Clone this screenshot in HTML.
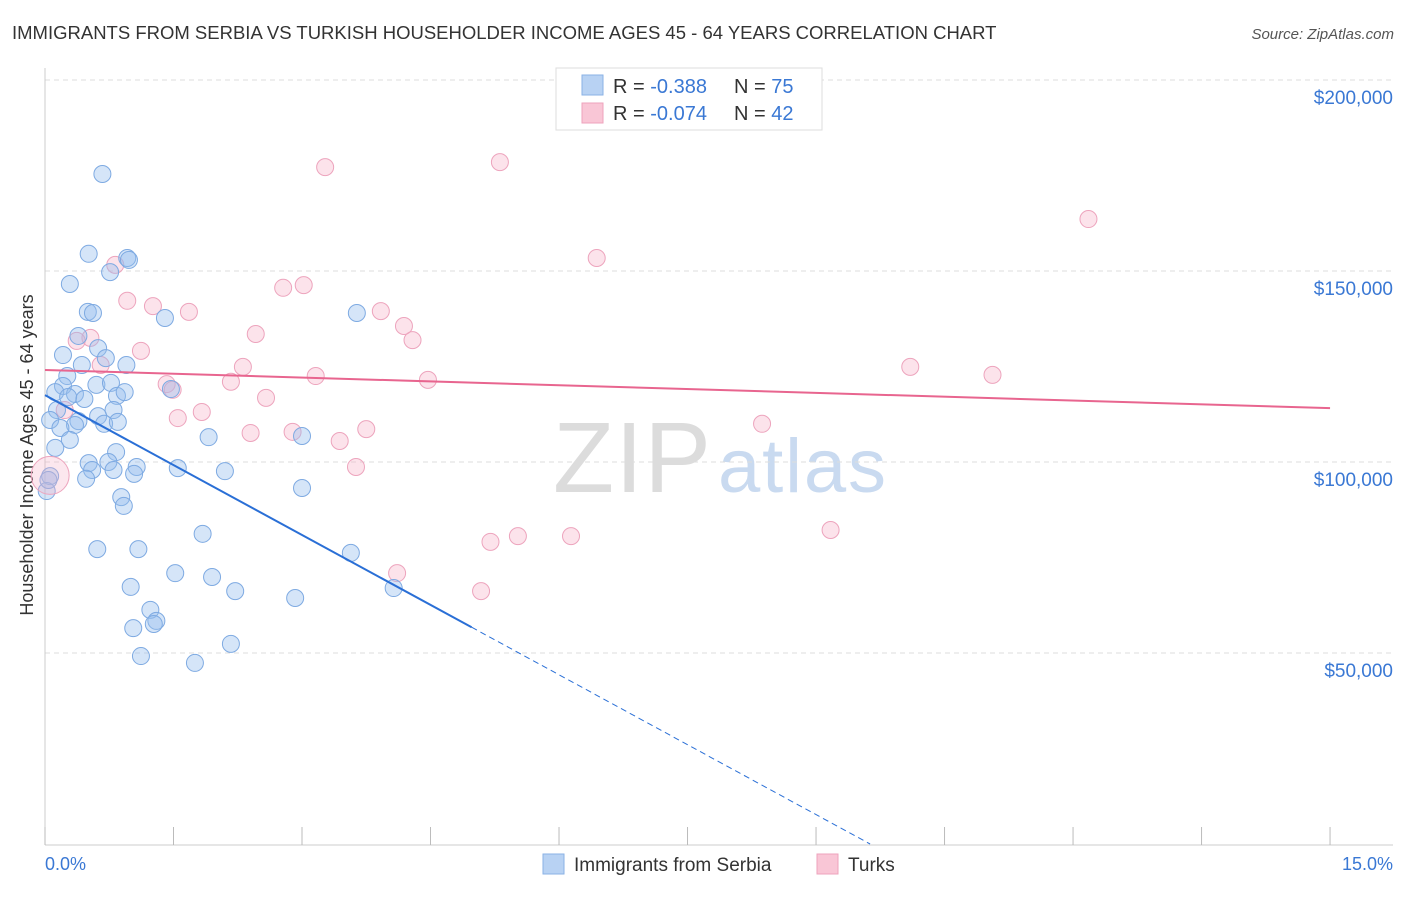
<!DOCTYPE html>
<html><head><meta charset="utf-8"><style>
body{margin:0;background:#fff;font-family:"Liberation Sans",sans-serif;}
svg text{font-family:"Liberation Sans",sans-serif;}
</style></head><body>
<svg id="chart" width="1406" height="892">
<text x="12" y="39" font-size="18.5" fill="#333">IMMIGRANTS FROM SERBIA VS TURKISH HOUSEHOLDER INCOME AGES 45 - 64 YEARS CORRELATION CHART</text>
<text x="1394" y="39" font-size="15" fill="#555" text-anchor="end" font-style="italic">Source: ZipAtlas.com</text>
<text x="0" y="0" font-size="18" fill="#333" text-anchor="middle" transform="translate(33,455) rotate(-90)">Householder Income Ages 45 - 64 years</text>
<text x="553" y="492" font-size="100" fill="#dcdcdc" font-family="Liberation Serif" textLength="158">ZIP</text>
<text x="718" y="492" font-size="76" fill="#c9daf0" textLength="168">atlas</text>
<g id="grid"></g><g id="pts"></g><g id="lines"></g>
<g>
<rect x="556" y="68" width="266" height="62" fill="#fff" stroke="#ddd"/>
<rect x="582" y="75" width="21" height="20" fill="#b8d2f3" stroke="#8ab2e6"/>
<rect x="582" y="103" width="21" height="20" fill="#f9c6d6" stroke="#eea3bc"/>
<text x="613" y="93" font-size="20" fill="#333">R = <tspan fill="#3a78d4">-0.388</tspan></text>
<text x="734" y="93" font-size="20" fill="#333">N = <tspan fill="#3a78d4">75</tspan></text>
<text x="613" y="120" font-size="20" fill="#333">R = <tspan fill="#3a78d4">-0.074</tspan></text>
<text x="734" y="120" font-size="20" fill="#333">N = <tspan fill="#3a78d4">42</tspan></text>
</g>
<g>
<rect x="543" y="854" width="21" height="20" fill="#b8d2f3" stroke="#8ab2e6"/>
<text x="574" y="871" font-size="19" fill="#333">Immigrants from Serbia</text>
<rect x="817" y="854" width="21" height="20" fill="#f9c6d6" stroke="#eea3bc"/>
<text x="848" y="871" font-size="19" fill="#333">Turks</text>
</g>
<text x="45" y="870" font-size="18" fill="#3a78d4">0.0%</text>
<text x="1393" y="870" font-size="18" fill="#3a78d4" text-anchor="end">15.0%</text>
</svg>
<script>
const yTicks=[50000,100000,150000,200000];
const yTickLabels=["$50,000","$100,000","$150,000","$200,000"];
const xTicks=[0,1.5,3,4.5,6,7.5,9,10.5,12,13.5,15];
const serbiaX=[0.67,0.51,0.96,0.98,0.76,0.29,0.50,0.56,1.40,3.64,0.39,0.62,0.21,0.71,0.43,0.95,0.26,0.21,0.60,0.77,1.47,0.12,0.35,0.27,0.84,0.93,0.46,0.14,0.80,0.62,0.06,0.39,0.35,0.69,0.85,0.18,1.91,3.0,0.29,0.12,0.83,0.51,0.74,1.07,0.55,0.80,1.55,2.10,1.04,0.06,0.48,3.0,0.02,0.89,0.92,1.84,0.61,1.09,3.57,1.52,1.95,1.0,2.22,4.07,2.92,1.23,1.30,1.27,1.03,2.17,1.12,1.75,0.04];
const serbiaY=[175.4,154.5,153.4,152.9,149.7,146.6,139.3,139.0,137.7,139.0,133.0,129.8,128.0,127.2,125.4,125.4,122.5,119.9,120.2,120.7,119.1,118.3,117.8,117.0,117.3,118.3,116.5,113.6,113.6,112.0,111.0,110.7,109.7,110.0,110.5,108.9,106.5,106.8,105.8,103.7,102.6,99.7,100.0,98.7,97.9,97.9,98.4,97.6,96.9,96.3,95.6,93.2,92.4,90.8,88.5,81.2,77.2,77.2,76.2,70.9,69.9,67.3,66.2,67.0,64.4,61.3,58.4,57.6,56.5,52.4,49.2,47.4,95.3];
const turksX=[3.27,5.31,12.18,6.44,0.82,2.78,3.02,0.96,1.26,1.68,3.92,4.19,2.46,0.53,0.37,4.29,1.12,0.65,2.31,10.1,11.06,3.16,2.17,4.47,1.42,1.49,2.58,0.23,1.83,1.55,8.37,3.75,2.40,2.89,3.44,3.63,9.17,5.52,6.14,5.20,4.11,5.09];
const turksY=[177.2,178.5,163.6,153.4,151.6,145.6,146.3,142.2,140.8,139.3,139.5,135.6,133.5,132.5,131.7,131.9,129.1,125.4,124.9,124.9,122.8,122.5,121.0,121.5,120.4,118.9,116.8,113.6,113.1,111.5,110.0,108.6,107.6,107.9,105.5,98.7,82.2,80.6,80.6,79.1,70.9,66.2];
const serbiaTrend=[117.5,-12.2];
const turksTrend=[124.1,-0.667];
const X=v=>45+v*85.67, Y=k=>653-(k-50)*3.82;
const NS="http://www.w3.org/2000/svg";
function mk(t,a,p){const e=document.createElementNS(NS,t);for(const k in a)e.setAttribute(k,a[k]);p.appendChild(e);return e;}
const grid=document.getElementById('grid');
yTicks.forEach((v,i)=>{const y=Y(v/1000);
const l=mk('line',{x1:45,x2:1393,y1:y,y2:y,stroke:'#ddd','stroke-dasharray':'5,4'},grid);


const t=mk('text',{x:1393,y:y+24,'font-size':19,fill:'#3a78d4','text-anchor':'end'},grid);t.textContent=yTickLabels[i];

});
mk('line',{x1:45,x2:45,y1:68,y2:845,stroke:'#ccc'},grid);
mk('line',{x1:45,x2:1393,y1:845,y2:845,stroke:'#ccc'},grid);
xTicks.forEach(v=>{const t=mk('line',{x1:X(v),x2:X(v),y1:827,y2:845,stroke:'#bbb'},grid);

});
const pts=document.getElementById('pts');
function dots(xs,ys,fill,stroke,name){xs.forEach((x,i)=>{const c=mk('circle',{cx:X(x),cy:Y(ys[i]),r:8.5,fill:fill,stroke:stroke,'stroke-width':1},pts);

});}
dots(turksX,turksY,'rgba(246,175,199,0.35)','#eda4bd','turks-point');
dots(serbiaX,serbiaY,'rgba(150,190,238,0.4)','#7eaae2','serbia-point');
const big=mk('circle',{cx:X(0.06),cy:Y(96.5),r:19,fill:'rgba(246,175,199,0.3)',stroke:'#eda4bd'},pts);


const lines=document.getElementById('lines');
const sy=x=>serbiaTrend[0]+serbiaTrend[1]*x;
let l1=mk('line',{x1:X(0),y1:Y(sy(0)),x2:X(4.98),y2:Y(sy(4.98)),stroke:'#2a6fd6','stroke-width':2},lines);


const xe=-serbiaTrend[0]/serbiaTrend[1];
let l2=mk('line',{x1:X(4.98),y1:Y(sy(4.98)),x2:X(xe),y2:Y(0),stroke:'#2a6fd6','stroke-width':1,'stroke-dasharray':'6,4'},lines);


const ty=x=>turksTrend[0]+turksTrend[1]*x;
let l3=mk('line',{x1:X(0),y1:Y(ty(0)),x2:X(15),y2:Y(ty(15)),stroke:'#e8658f','stroke-width':2},lines);


</script>
</body></html>
